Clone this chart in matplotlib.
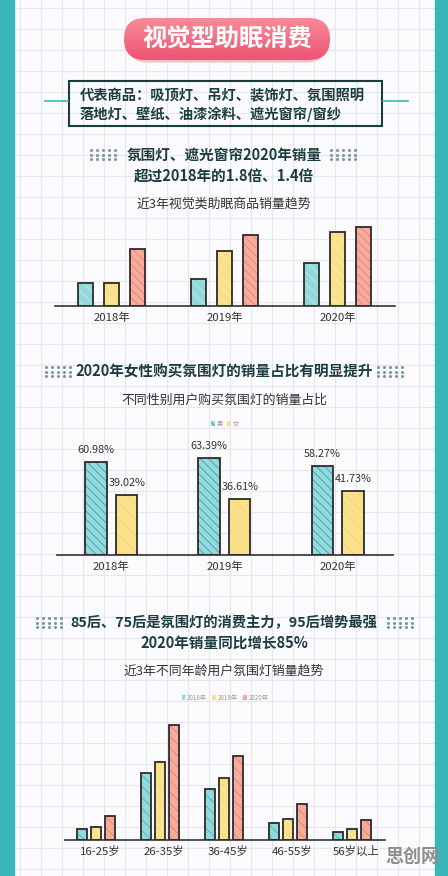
import numpy as np
import matplotlib
matplotlib.use('Agg')
import matplotlib.pyplot as plt
from matplotlib.patches import Rectangle, FancyBboxPatch, Patch

plt.rcParams['font.family'] = ['Noto Sans CJK SC', 'DejaVu Sans']
plt.rcParams['hatch.linewidth'] = 0.6

# ---- data ----
years = ['2018年', '2019年', '2020年']
trend_teal = [23, 27, 43]
trend_yellow = [23, 55, 74]
trend_red = [57, 71, 79]

genders = ['男', '女']
male_share = [60.98, 63.39, 58.27]
female_share = [39.02, 36.61, 41.73]

age_groups = ['16-25岁', '26-35岁', '36-45岁', '46-55岁', '56岁以上']
age_years = ['2018年', '2019年', '2020年']
age_2018 = [11, 67, 51, 17, 8]
age_2019 = [13, 78, 62, 21, 11]
age_2020 = [24, 115, 84, 36, 20]

W, H = 448, 876
TEAL = '#38b6ba'
DARK = '#1c3d40'
TEAL_F, TEAL_H = '#93d9dc', '#4fb2b8'
YEL_F, YEL_H = '#fbe08a', '#efc65a'
RED_F, RED_H = '#f6ab9c', '#e46a5a'

fig = plt.figure(figsize=(W / 100, H / 100), dpi=100)
bg = fig.add_axes([0, 0, 1, 1])
bg.set_xlim(0, W)
bg.set_ylim(H, 0)
bg.axis('off')

# paper background with grid
bg.add_patch(Rectangle((0, 0), W, H, color='#fbfbfd', zorder=0))
for gx in np.arange(20, W, 21):
    bg.axvline(gx, color='#e6e7ec', lw=0.8, zorder=0.5)
for gy in np.arange(8, H, 21):
    bg.axhline(gy, color='#e6e7ec', lw=0.8, zorder=0.5)
bg.add_patch(Rectangle((0, 0), 14, H, color=TEAL, zorder=1))
bg.add_patch(Rectangle((435, 0), 13, H, color=TEAL, zorder=1))

# pink pill title
bg.add_patch(FancyBboxPatch((128, 22), 198, 40, boxstyle='round,pad=0,rounding_size=20',
                            color='#f7c3cb', zorder=2))
pill = FancyBboxPatch((124, 18), 206, 42, boxstyle='round,pad=0,rounding_size=21',
                      facecolor='none', edgecolor='none', zorder=3)
bg.add_patch(pill)
grad = np.linspace(0, 1, 50).reshape(-1, 1)
im = bg.imshow(grad, extent=(124, 330, 60, 18), cmap=matplotlib.colors.LinearSegmentedColormap.from_list(
    'pk', ['#f78a98', '#ef5474']), aspect='auto', zorder=3)
im.set_clip_path(pill)
bg.set_xlim(0, W)
bg.set_ylim(H, 0)
bg.text(227, 40, '视觉型助眠消费', color='white', fontsize=17.5, fontweight='bold',
        ha='center', va='center', zorder=4)

# product box
bg.add_patch(Rectangle((69, 81), 313, 45, fill=False, edgecolor=DARK, lw=1.5, zorder=2))
bg.plot([45, 68], [101, 101], color=TEAL, lw=1.2, zorder=2)
bg.plot([383, 408], [101, 101], color=TEAL, lw=1.2, zorder=2)
bg.text(80, 96, '代表商品：吸顶灯、吊灯、装饰灯、氛围照明', color=DARK, fontsize=10.3,
        fontweight='bold', ha='left', va='center', zorder=3)
bg.text(80, 114, '落地灯、壁纸、油漆涂料、遮光窗帘/窗纱', color=DARK, fontsize=10.3,
        fontweight='bold', ha='left', va='center', zorder=3)


def dots(x0, y0):
    xs, ys = np.meshgrid(np.arange(5) * 6 + x0, np.arange(3) * 4.5 + y0)
    bg.scatter(xs.ravel(), ys.ravel(), s=1.5, color='#7a9a9c', zorder=3)


# section titles
dots(91, 150)
dots(331, 150)
bg.text(224, 155, '氛围灯、遮光窗帘2020年销量', color=DARK, fontsize=10.5, fontweight='bold',
        ha='center', va='center')
bg.text(224, 177, '超过2018年的1.8倍、1.4倍', color=DARK, fontsize=10.5, fontweight='bold',
        ha='center', va='center')
bg.text(224, 204, '近3年视觉类助眠商品销量趋势', color='#333333', fontsize=9.3,
        ha='center', va='center')

dots(46, 367)
dots(378, 367)
bg.text(224, 372, '2020年女性购买氛围灯的销量占比有明显提升', color=DARK, fontsize=10.5,
        fontweight='bold', ha='center', va='center')
bg.text(224, 400, '不同性别用户购买氛围灯的销量占比', color='#333333', fontsize=9.3,
        ha='center', va='center')

dots(37, 618)
dots(388, 618)
bg.text(224, 623, '85后、75后是氛围灯的消费主力，95后增势最强', color=DARK, fontsize=10.3,
        fontweight='bold', ha='center', va='center')
bg.text(224, 643, '2020年销量同比增长85%', color=DARK, fontsize=10.5, fontweight='bold',
        ha='center', va='center')
bg.text(224, 671, '近3年不同年龄用户氛围灯销量趋势', color='#333333', fontsize=9.3,
        ha='center', va='center')

bg.text(412, 856, '思创网', color='#8e8e8e', fontsize=13, fontweight='bold',
        ha='center', va='center', zorder=10)


def px_axes(x0, y0, x1, y1):
    ax = fig.add_axes([x0 / W, 1 - y1 / H, (x1 - x0) / W, (y1 - y0) / H])
    ax.patch.set_alpha(0)
    for s in ['top', 'right', 'left']:
        ax.spines[s].set_visible(False)
    ax.spines['bottom'].set_color('#333333')
    ax.spines['bottom'].set_linewidth(1.2)
    ax.set_yticks([])
    ax.tick_params(axis='x', length=0, pad=5, labelsize=8.2, labelcolor='#333333')
    return ax


def sketch_bars(ax, x, vals, width, fill, hatch_col, hatch):
    ax.bar(x, vals, width, color=fill, edgecolor=hatch_col, hatch=hatch, lw=0, zorder=2)
    ax.bar(x, vals, width, fill=False, edgecolor='#2b2b2b', lw=1.3, zorder=3)


# chart 1
ax1 = px_axes(55, 215, 395, 306)
x = np.arange(len(years))
sketch_bars(ax1, x - 0.23, trend_teal, 0.133, TEAL_F, '#b8e8ea', '\\\\\\')
sketch_bars(ax1, x, trend_yellow, 0.133, YEL_F, '#fdeeb4', '\\\\\\')
sketch_bars(ax1, x + 0.23, trend_red, 0.133, RED_F, '#ea8272', '\\\\\\\\')
ax1.set_xlim(-0.5, 2.509)
ax1.set_ylim(0, 91)
ax1.set_xticks(x)
ax1.set_xticklabels(years)

# chart 2
ax2 = px_axes(57, 430, 393, 555)
x = np.arange(len(years))
sketch_bars(ax2, x - 0.137, male_share, 0.186, TEAL_F, '#3f9ea6', '\\\\\\\\')
sketch_bars(ax2, x + 0.137, female_share, 0.186, YEL_F, '#f3d27a', '\\\\')
for xi, m, f in zip(x, male_share, female_share):
    ax2.annotate(f'{m:.2f}%', (xi - 0.137, m), xytext=(0, 5), textcoords='offset points',
                 ha='center', va='bottom', fontsize=7.8, color='#333333')
    ax2.annotate(f'{f:.2f}%', (xi + 0.137, f), xytext=(0, 5), textcoords='offset points',
                 ha='center', va='bottom', fontsize=7.8, color='#333333')
ax2.set_xlim(-0.482, 2.491)
ax2.set_ylim(0, 81.7)
ax2.set_xticks(x)
ax2.set_xticklabels(years)
h2 = [Patch(facecolor=c, edgecolor=hc, hatch='\\\\\\', lw=0) for c, hc in
      [(TEAL_F, '#3f9ea6'), (YEL_F, '#f3d27a')]]
ax2.legend(h2, genders, loc='center', bbox_to_anchor=(225 / W, 1 - 424 / H),
           bbox_transform=fig.transFigure, ncol=2, frameon=False, fontsize=4.5,
           handlelength=0.6, handleheight=0.8, handletextpad=0.3, columnspacing=0.6,
           labelcolor='#9a9a9a')

# chart 3
ax3 = px_axes(65, 715, 385, 840)
x = np.arange(len(age_groups))
sketch_bars(ax3, x - 0.219, age_2018, 0.156, TEAL_F, TEAL_H, '\\\\\\')
sketch_bars(ax3, x, age_2019, 0.156, YEL_F, '#fdeeb4', '\\\\')
sketch_bars(ax3, x + 0.219, age_2020, 0.156, RED_F, '#ea8272', '\\\\\\')
ax3.set_xlim(-0.484, 4.516)
ax3.set_ylim(0, 125)
ax3.set_xticks(x + 0.06)
ax3.set_xticklabels(age_groups)
ax3.tick_params(axis='x', pad=4)
h3 = [Patch(facecolor=c, edgecolor=hc, hatch='\\\\\\', lw=0) for c, hc in
      [(TEAL_F, TEAL_H), (YEL_F, YEL_H), (RED_F, RED_H)]]
ax3.legend(h3, age_years, loc='center', bbox_to_anchor=(225 / W, 1 - 698 / H),
           bbox_transform=fig.transFigure, ncol=3, frameon=False, fontsize=4.5,
           handlelength=0.6, handleheight=0.8, handletextpad=0.3, columnspacing=0.8,
           labelcolor='#9a9a9a')

fig.savefig('out.png', dpi=100)
